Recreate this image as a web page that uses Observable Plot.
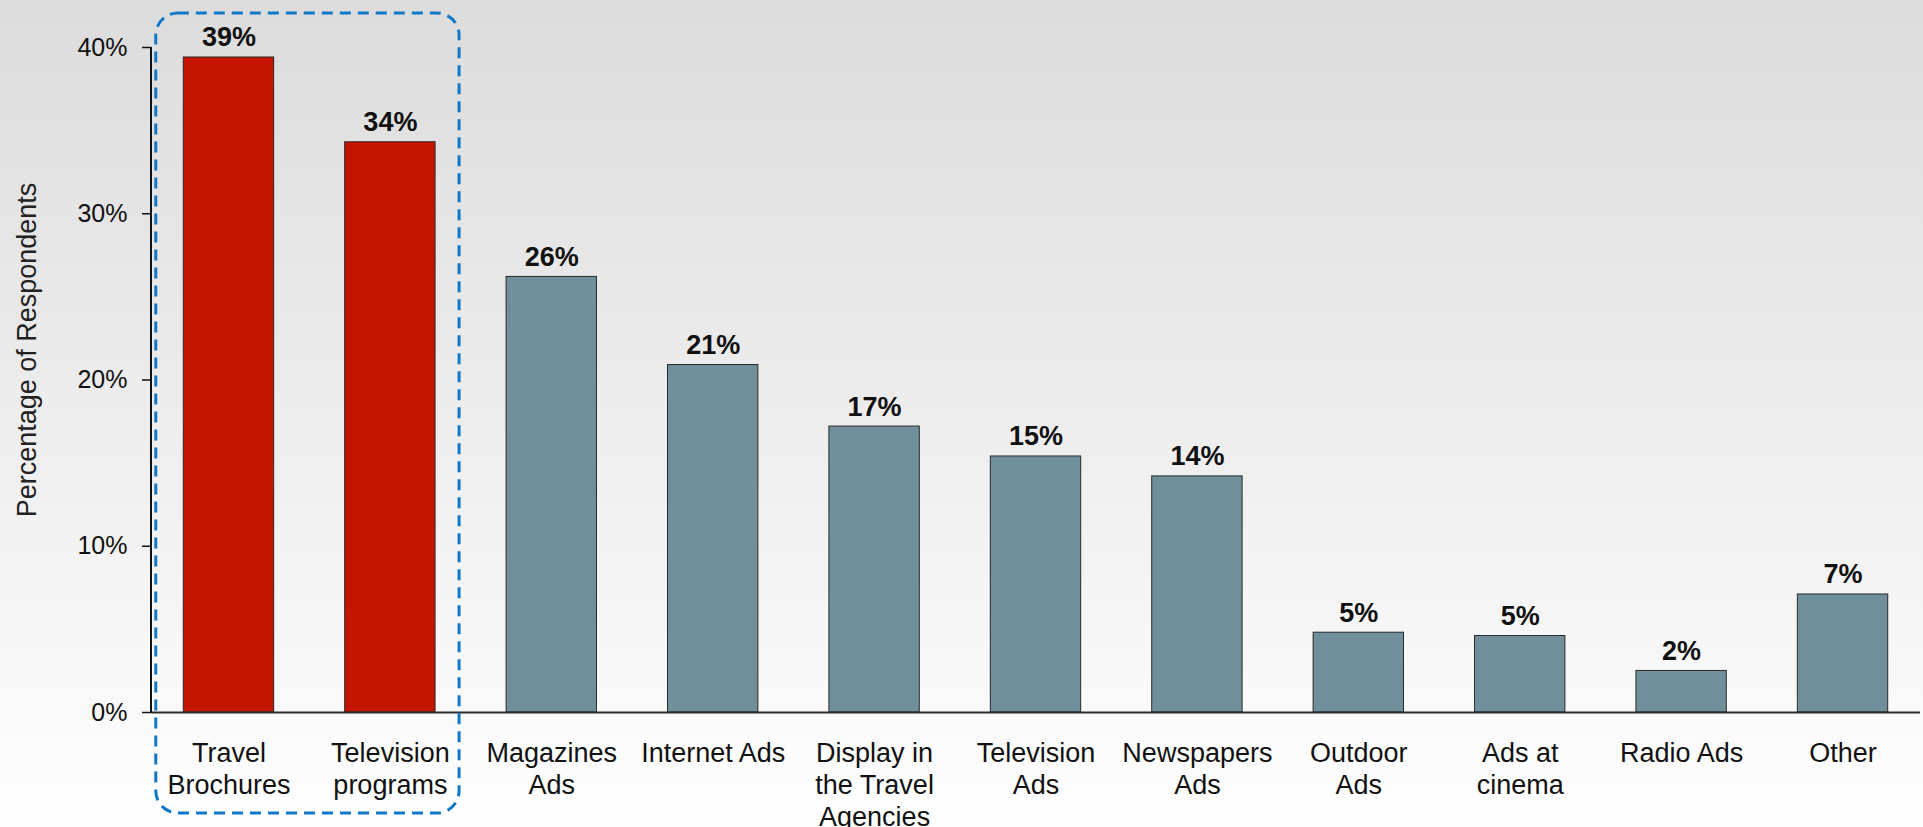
<!DOCTYPE html>
<html>
<head>
<meta charset="utf-8">
<script src="https://cdn.jsdelivr.net/npm/d3@7"></script>
<script src="https://cdn.jsdelivr.net/npm/@observablehq/plot@0.6"></script>
<style>
  html, body { margin: 0; padding: 0; }
  body {
    width: 1923px; height: 827px; overflow: hidden;
    background: linear-gradient(to bottom, #dcdcdc 0%, #f4f4f4 70%, #ffffff 100%);
    font-family: "Liberation Sans", Arial, sans-serif;
  }
  #chart svg { display: block; }
</style>
</head>
<body>
<div id="chart"></div>
<script>
// ---- data ----
const categories = [
  "Travel Brochures", "Television programs", "Magazines Ads", "Internet Ads",
  "Display in the Travel Agencies", "Television Ads", "Newspapers Ads",
  "Outdoor Ads", "Ads at cinema", "Radio Ads", "Other"
];
const tickLabels = [
  "Travel\nBrochures", "Television\nprograms", "Magazines\nAds", "Internet Ads",
  "Display in\nthe Travel\nAgencies", "Television\nAds", "Newspapers\nAds",
  "Outdoor\nAds", "Ads at\ncinema", "Radio Ads", "Other"
];
const values = [39.4, 34.3, 26.2, 20.9, 17.2, 15.4, 14.2, 4.8, 4.6, 2.5, 7.1];
const valueLabels = ["39%", "34%", "26%", "21%", "17%", "15%", "14%", "5%", "5%", "2%", "7%"];
const highlighted = ["Travel Brochures", "Television programs"];
const yTicks = [0, 10, 20, 30, 40];
const yTitle = "Percentage of Respondents";

const data = categories.map((c, i) => ({
  category: c, value: values[i], label: valueLabels[i],
  group: highlighted.includes(c) ? "hi" : "base"
}));
const tickLabelOf = new Map(categories.map((c, i) => [c, tickLabels[i]]));

const plot = Plot.plot({
  width: 1923,
  height: 827,
  marginTop: 47,
  marginBottom: 115,
  marginLeft: 151,
  marginRight: 3,
  style: { background: "transparent", fontFamily: "'Liberation Sans', Arial, sans-serif", overflow: "visible" },
  x: { domain: categories, paddingInner: 0.44, paddingOuter: 0.2, round: false },
  y: { domain: [0, 40] },
  color: { domain: ["hi", "base"], range: ["#c41400", "#6f8f9b"] },
  marks: [
    Plot.barY(data, { x: "category", y: "value", fill: "group", stroke: "#2a2a2a", strokeWidth: 1 }),
    Plot.ruleY([0], { stroke: "#2a2a2a", strokeWidth: 2 }),
    Plot.axisY({
      ticks: yTicks, tickFormat: d => d + "%", tickSize: 9, tickPadding: 15,
      fontSize: 25, stroke: "#111", strokeWidth: 1.5, label: null, color: "#111"
    }),
    Plot.axisX({
      tickSize: 0, tickPadding: 27, fontSize: 27, lineHeight: 1.18,
      tickFormat: d => tickLabelOf.get(d), label: null, color: "#111"
    }),
    Plot.text(data, {
      x: "category", y: "value", text: "label", dy: -11, lineAnchor: "bottom",
      fontSize: 27, fontWeight: "bold", fill: "#111"
    }),
    Plot.text([yTitle], {
      text: d => d, frameAnchor: "left", rotate: -90, dx: -124, dy: -30,
      fontSize: 27, fill: "#222", textAnchor: "middle", lineAnchor: "middle"
    })
  ]
});

document.getElementById("chart").appendChild(plot);

// Annotations drawn from the plot's own scales
const sx = plot.scale("x");
const sy = plot.scale("y");
const svg = d3.select(plot);
const yTop = sy.apply(yTicks[yTicks.length - 1]);
const yBase = sy.apply(0);
// vertical axis line
svg.append("line")
  .attr("x1", sx.range[0]).attr("x2", sx.range[0])
  .attr("y1", yTop).attr("y2", yBase)
  .attr("stroke", "#111").attr("stroke-width", 2);
// dashed rounded highlight box around the highlighted categories
const bx0 = sx.apply(highlighted[0]) - 27.5;
const bx1 = sx.apply(highlighted[highlighted.length - 1]) + sx.bandwidth + 24;
const by0 = yTop - 34;
const by1 = yBase + 101;
svg.append("rect")
  .attr("x", bx0).attr("y", by0)
  .attr("width", bx1 - bx0).attr("height", by1 - by0)
  .attr("rx", 22).attr("ry", 22)
  .attr("fill", "none").attr("stroke", "#0f78c8")
  .attr("stroke-width", 3).attr("stroke-dasharray", "11,7");
</script>
</body>
</html>
